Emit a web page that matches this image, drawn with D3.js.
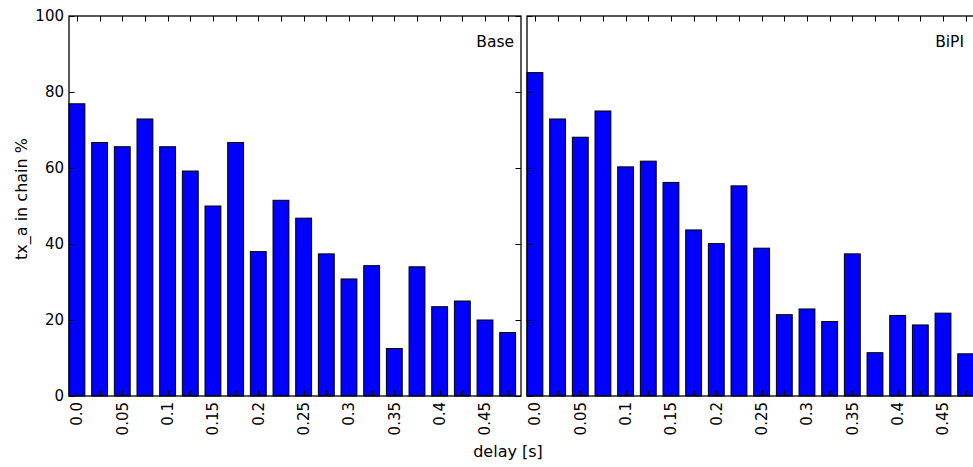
<!DOCTYPE html>
<html>
<head>
<meta charset="utf-8">
<script src="https://cdn.jsdelivr.net/npm/d3@7"></script>
<style>
  html, body { margin: 0; padding: 0; background: #fff; }
  svg { display: block; overflow: hidden; }
  text { font-family: "DejaVu Sans", sans-serif; fill: #000; }
</style>
</head>
<body>
<svg id="chart" width="973" height="467"></svg>
<script>
// delay bins [s]
const delays = [0.0, 0.025, 0.05, 0.075, 0.1, 0.125, 0.15, 0.175, 0.2, 0.225,
                0.25, 0.275, 0.3, 0.325, 0.35, 0.375, 0.4, 0.425, 0.45, 0.475];
// share of tx_a that ended up in the chain, %
const baseValues = [76.9, 66.7, 65.6, 72.9, 65.6, 59.2, 50.0, 66.7, 38.0, 51.5,
                    46.8, 37.4, 30.8, 34.3, 12.5, 34.0, 23.5, 25.0, 20.0, 16.7];
const bipiValues = [85.1, 72.9, 68.1, 75.0, 60.3, 61.8, 56.2, 43.7, 40.1, 55.3,
                    38.9, 21.4, 22.9, 19.6, 37.4, 11.4, 21.2, 18.7, 21.8, 11.1];
const panelNames = ["Base", "BiPI"];
const xTickLabels = ["0.0", "", "0.05", "", "0.1", "", "0.15", "", "0.2", "",
                     "0.25", "", "0.3", "", "0.35", "", "0.4", "", "0.45", ""];
const yTicks = [0, 20, 40, 60, 80, 100];
const yTickLabels = ["0", "20", "40", "60", "80", "100"];

const svg = d3.select("#chart");
const FONT = 15;
const LABEL_FONT = 16;
const TICK = 5.5;
const barWidth = 0.0175;

const plotTop = 16, plotBottom = 396;
const panels = [
  { name: panelNames[0], values: baseValues, left: 69, right: 521, showY: true, labelInset: 7 },
  { name: panelNames[1], values: bipiValues, left: 527, right: 979, showY: false, labelInset: 15 }
];

const y = d3.scaleLinear().domain([0, 100]).range([plotBottom, plotTop]);

panels.forEach(p => {
  const x = d3.scaleLinear()
    .domain([-barWidth / 2, 0.4897])
    .range([p.left, p.right]);
  const g = svg.append("g");

  // bars
  g.selectAll("rect.bar")
    .data(p.values)
    .join("rect")
    .attr("class", "bar")
    .attr("x", (d, i) => x(delays[i] - barWidth / 2))
    .attr("width", (d, i) => x(delays[i] + barWidth / 2) - x(delays[i] - barWidth / 2))
    .attr("y", d => y(d))
    .attr("height", d => y(0) - y(d))
    .attr("fill", "#0000ff")
    .attr("stroke", "#000")
    .attr("stroke-width", 1);

  // inward ticks on all four sides
  const tickG = g.append("g").attr("stroke", "#000").attr("stroke-width", 1);
  delays.forEach(d => {
    const xx = Math.round(x(d)) + 0.5;
    tickG.append("line").attr("x1", xx).attr("x2", xx).attr("y1", plotBottom).attr("y2", plotBottom - TICK);
    tickG.append("line").attr("x1", xx).attr("x2", xx).attr("y1", plotTop).attr("y2", plotTop + TICK);
  });
  yTicks.forEach(t => {
    const yy = Math.round(y(t)) + 0.5;
    tickG.append("line").attr("x1", p.left).attr("x2", p.left + TICK).attr("y1", yy).attr("y2", yy);
    tickG.append("line").attr("x1", p.right).attr("x2", p.right - TICK).attr("y1", yy).attr("y2", yy);
  });

  // frame
  g.append("rect")
    .attr("x", p.left).attr("y", plotTop)
    .attr("width", p.right - p.left).attr("height", plotBottom - plotTop)
    .attr("fill", "none").attr("stroke", "#000").attr("stroke-width", 1.3);

  // x tick labels, rotated
  delays.forEach((d, i) => {
    if (!xTickLabels[i]) return;
    g.append("text")
      .attr("transform", `translate(${x(d)},${plotBottom + 6}) rotate(-90)`)
      .attr("text-anchor", "end")
      .attr("dy", "0.35em")
      .style("font-size", FONT + "px")
      .text(xTickLabels[i]);
  });

  // y tick labels on the first panel only
  if (p.showY) {
    yTicks.forEach((t, i) => {
      g.append("text")
        .attr("x", p.left - 5)
        .attr("y", y(t))
        .attr("dy", "0.35em")
        .attr("text-anchor", "end")
        .style("font-size", FONT + "px")
        .text(yTickLabels[i]);
    });
  }

  // panel name, top right
  g.append("text")
    .attr("x", p.right - p.labelInset)
    .attr("y", 47)
    .attr("text-anchor", "end")
    .style("font-size", "15.5px")
    .text(p.name);
});

// axis titles
svg.append("text")
  .attr("x", 508).attr("y", 457)
  .attr("text-anchor", "middle")
  .style("font-size", LABEL_FONT + "px")
  .text("delay [s]");

svg.append("text")
  .attr("transform", "translate(27,199) rotate(-90)")
  .attr("text-anchor", "middle")
  .style("font-size", LABEL_FONT + "px")
  .text("tx_a in chain %");
</script>
</body>
</html>
